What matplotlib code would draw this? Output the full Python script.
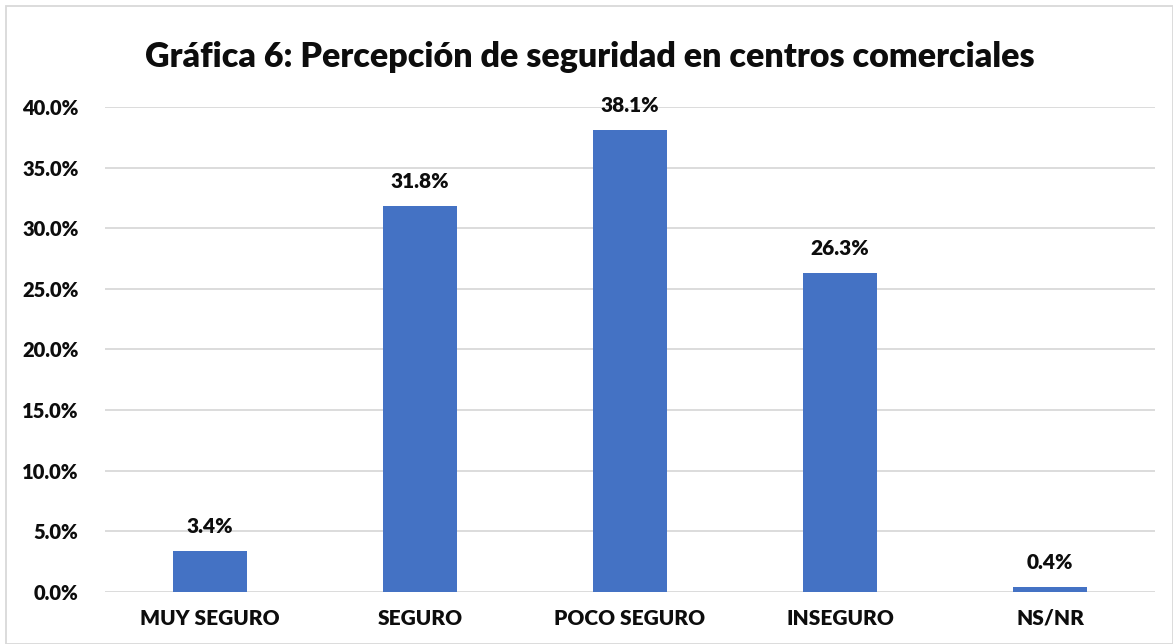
import matplotlib.pyplot as plt
from matplotlib.patches import Rectangle
from matplotlib.ticker import FuncFormatter

categories = ['MUY SEGURO', 'SEGURO', 'POCO SEGURO', 'INSEGURO', 'NS/NR']
values = [3.4, 31.8, 38.1, 26.3, 0.4]
title = 'Gráfica 6: Percepción de seguridad en centros comerciales'

plt.rcParams['font.family'] = ['Lato', 'DejaVu Sans']
W = 'heavy'

fig = plt.figure(figsize=(11.73, 6.44), dpi=100)
ax = fig.add_axes([0.0895, 0.0807, 0.8952, 0.7532])

x = range(len(categories))
bars = ax.bar(x, values, width=0.35, color='#4472C4', zorder=3)
for b, v in zip(bars, values):
    ax.annotate(f'{v:.1f}%', (b.get_x() + b.get_width() / 2, v), xytext=(0, 11),
                textcoords='offset points', ha='center', va='bottom',
                fontsize=15, fontweight=W, color='#0d0d0d')

ax.set_xlim(-0.5, len(categories) - 0.5)
ax.set_ylim(0, 40)
ax.set_yticks(range(0, 41, 5))
ax.yaxis.set_major_formatter(FuncFormatter(lambda v, p: f'{v:.1f}%'))
ax.set_xticks(list(x))
ax.set_xticklabels(categories)
ax.tick_params(axis='both', length=0, labelsize=15, colors='#0d0d0d')
ax.tick_params(axis='y', pad=19, labelsize=14.5)
ax.tick_params(axis='x', pad=12)
for lbl in ax.get_xticklabels() + ax.get_yticklabels():
    lbl.set_fontweight(W)
ax.grid(axis='y', color='#d9d9d9', linewidth=1.3, zorder=0)
ax.set_axisbelow(True)
for s in ax.spines.values():
    s.set_visible(False)

fig.text(0.503, 0.912, title, ha='center', va='center', fontsize=24.5, fontweight=W, color='#0d0d0d')
fig.patches.append(Rectangle((0.005, 0.0), 0.995, 0.99, transform=fig.transFigure,
                             fill=False, edgecolor='#d9d9d9', linewidth=1.3))

fig.savefig('out.png', dpi=100)
